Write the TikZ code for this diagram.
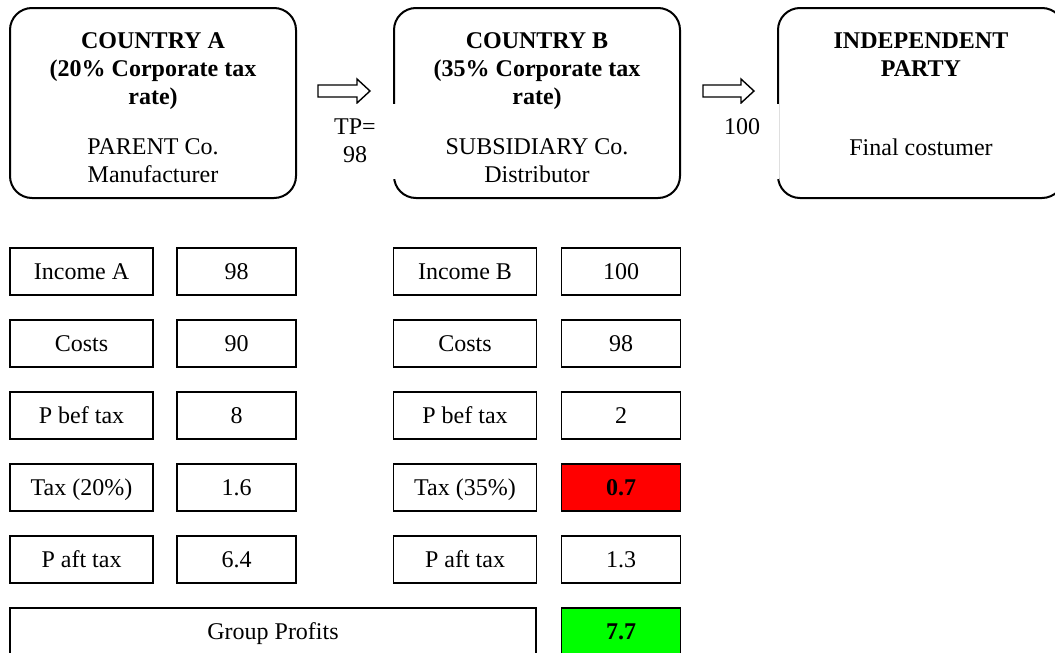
\documentclass[tikz,border=0pt]{standalone}
\usepackage{fontspec}
\setmainfont{Liberation Serif}
\tikzset{
	partybox/.style={draw, line width=1pt, rounded corners=11pt, minimum width=143pt, minimum height=95pt, align=center, font=\fontsize{12}{14}\selectfont},
	cell/.style={draw, line width=0.9pt, minimum height=23.5pt, inner sep=0pt, text height=8.5pt, text depth=1pt, font=\fontsize{12}{14}\selectfont},
	namecell/.style={cell, minimum width=71.5pt},
	valcell/.style={cell, minimum width=59.5pt},
	flowarrow/.style={draw, line width=0.7pt, line join=miter},
	pricetag/.style={fill=white, inner sep=0pt, align=center, minimum height=37.5pt, font=\fontsize{12}{14}\selectfont}
}
\begin{document}
\begin{tikzpicture}[x=0.5pt,y=-0.5pt]
				\useasboundingbox (0,0) rectangle (1055,653);
				% parties
				\node[partybox] (partyA) at (153,103) {\rule{0pt}{13pt}\textbf{COUNTRY A}\\\textbf{(20\% Corporate tax}\\\textbf{rate)}\\[11pt]PARENT Co.\\Manufacturer};
				\node[partybox] (partyB) at (537,103) {\rule{0pt}{13pt}\textbf{COUNTRY B}\\\textbf{(35\% Corporate tax}\\\textbf{rate)}\\[11pt]SUBSIDIARY Co.\\Distributor};
				\node[partybox] (partyC) at (921,103) {\rule{0pt}{13pt}\textbf{INDEPENDENT}\\\textbf{PARTY}\\[25.5pt]Final costumer\\~};
				% block arrows
				\draw[flowarrow] (318,85) -- ++(39,0) -- ++(0,-6) -- ++(13,12) -- ++(-13,12) -- ++(0,-6) -- ++(-39,0) -- cycle;
				\draw[flowarrow] (703,85) -- ++(38,0) -- ++(0,-6) -- ++(13,12) -- ++(-13,12) -- ++(0,-6) -- ++(-38,0) -- cycle;
				\node[pricetag, minimum width=41pt] (tpAB) at (355,141) {TP=\\98};
				\node[pricetag, minimum width=37pt] (tpBC) at (742,141) {100\\~};
				% country A
				\node[namecell] (incA) at (81.5,271.5) {Income A};
				\node[valcell] (incAv) at (236.5,271.5) {98};
				\node[namecell] (costA) at (81.5,343.5) {Costs};
				\node[valcell] (costAv) at (236.5,343.5) {90};
				\node[namecell] (pbtA) at (81.5,415.5) {P bef tax};
				\node[valcell] (pbtAv) at (236.5,415.5) {8};
				\node[namecell] (taxA) at (81.5,487.5) {Tax (20\%)};
				\node[valcell] (taxAv) at (236.5,487.5) {1.6};
				\node[namecell] (patA) at (81.5,559.5) {P aft tax};
				\node[valcell] (patAv) at (236.5,559.5) {6.4};
				% country B
				\node[namecell] (incB) at (465,271.5) {Income B};
				\node[valcell] (incBv) at (621,271.5) {100};
				\node[namecell] (costB) at (465,343.5) {Costs};
				\node[valcell] (costBv) at (621,343.5) {98};
				\node[namecell] (pbtB) at (465,415.5) {P bef tax};
				\node[valcell] (pbtBv) at (621,415.5) {2};
				\node[namecell] (taxB) at (465,487.5) {Tax (35\%)};
				\node[valcell, fill={rgb,255:red,255;green,0;blue,0}] (taxBv) at (621,487.5) {\textbf{0.7}};
				\node[namecell] (patB) at (465,559.5) {P aft tax};
				\node[valcell] (patBv) at (621,559.5) {1.3};
				% group
				\node[cell, minimum width=263pt] (group) at (273,631.5) {Group Profits};
				\node[valcell, fill={rgb,255:red,0;green,255;blue,0}] (groupv) at (621,631.5) {\textbf{7.7}};
			\end{tikzpicture}
\end{document}
